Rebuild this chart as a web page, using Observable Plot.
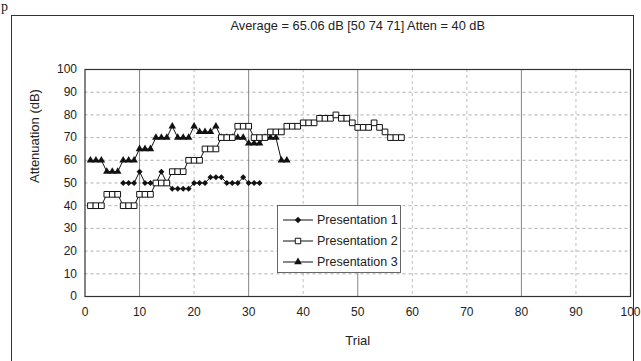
<!DOCTYPE html>
<html>
<head>
<meta charset="utf-8">
<script src="https://cdn.jsdelivr.net/npm/d3@7"></script>
<script src="https://cdn.jsdelivr.net/npm/@observablehq/plot@0.6"></script>
<style>
  html, body { margin: 0; padding: 0; background: #fff; }
  #wrap { position: relative; width: 641px; height: 361px; overflow: hidden;
          font-family: "Liberation Sans", Arial, sans-serif; color: #222; }
  #frame { position: absolute; left: 11px; top: 15px; width: 623px; height: 370px;
           border: 1.5px solid #333; box-sizing: border-box; }
  #corner { position: absolute; left: 1px; top: 0px; font-family: "Liberation Serif", serif;
            font-size: 14px; line-height: 14px; color: #222; }
  #chart { position: absolute; left: 0; top: 0; }
  #legend { position: absolute; left: 277px; top: 205px; width: 124px; height: 68px;
            border: 1px solid #666; background: #fff; box-sizing: border-box; padding-top: 3px; }
  .row { display: flex; align-items: center; height: 21px; font-size: 12.5px; }
  .row svg { margin-left: 4px; margin-right: 3px; }
</style>
</head>
<body>
<div id="wrap">
  <div id="frame"></div>
  <div id="corner">p</div>
  <div id="chart"></div>
  <div id="legend"></div>
</div>
<script>
// ---- data ----
const title = "Average = 65.06 dB [50 74 71] Atten = 40 dB";
const xLabel = "Trial";
const yLabel = "Attenuation (dB)";
const xTicks = [0, 10, 20, 30, 40, 50, 60, 70, 80, 90, 100];
const yTicks = [0, 10, 20, 30, 40, 50, 60, 70, 80, 90, 100];
const seriesNames = ["Presentation 1", "Presentation 2", "Presentation 3"];

// Presentation 1 starts at trial 7
const p1Start = 7;
const p1 = [50, 50, 50, 55, 50, 50, 50, 55, 50, 47.5, 47.5, 47.5, 47.5, 50, 50, 50,
            52.5, 52.5, 52.5, 50, 50, 50, 52.5, 50, 50, 50];
// Presentation 2 starts at trial 1
const p2Start = 1;
const p2 = [40, 40, 40, 45, 45, 45, 40, 40, 40, 45, 45, 45, 50, 50, 50, 55, 55, 55,
            60, 60, 60, 65, 65, 65, 70, 70, 70, 75, 75, 75, 70, 70, 70, 72.5, 72.5, 72.5,
            75, 75, 75, 76.5, 76.5, 76.5, 78.5, 78.5, 78.5, 80, 78.5, 78.5, 76.5,
            74.5, 74.5, 74.5, 76.5, 74.5, 72.5, 70, 70, 70];
// Presentation 3 starts at trial 1
const p3Start = 1;
const p3 = [60, 60, 60, 55, 55, 55, 60, 60, 60, 65, 65, 65, 70, 70, 70, 75, 70, 70, 70,
            75, 72.5, 72.5, 72.5, 75, 70, 70, 70, 70, 70, 67.5, 67.5, 67.5, 70, 70, 70, 60, 60];

const majorX = [10, 30, 50, 80];

// ---- build tables ----
const toRows = (vals, start) => vals.map((v, i) => ({trial: start + i, value: v}));
const d1 = toRows(p1, p1Start);
const d2 = toRows(p2, p2Start);
const d3rows = toRows(p3, p3Start);

const diamondSym = d3.symbolDiamond2 || "diamond";
const font = "'Liberation Sans', Arial, sans-serif";

const chart = Plot.plot({
  width: 641,
  height: 361,
  marginLeft: 84.5,
  marginRight: 11,
  marginTop: 69,
  marginBottom: 65,
  style: {fontFamily: font, fontSize: "12px", color: "#222", background: "transparent", overflow: "visible"},
  x: {domain: [0, 100], ticks: xTicks, tickSize: 0, tickPadding: 11, label: null},
  y: {domain: [0, 100], ticks: yTicks, tickSize: 0, tickPadding: 8, label: null},
  marks: [
    Plot.ruleY(yTicks.filter(v => v > 0 && v < 100), {stroke: "#9a9a9a", strokeWidth: 0.8, strokeDasharray: "3,3"}),
    Plot.ruleX(xTicks.filter(v => v > 0 && v < 100 && !majorX.includes(v)), {stroke: "#b0b0b0", strokeWidth: 0.8, strokeDasharray: "3,3"}),
    Plot.ruleX(majorX, {stroke: "#777", strokeWidth: 0.9}),
    Plot.frame({stroke: "#333", strokeWidth: 1.2}),
    Plot.line(d1, {x: "trial", y: "value", stroke: "#111", strokeWidth: 1}),
    Plot.line(d2, {x: "trial", y: "value", stroke: "#111", strokeWidth: 1}),
    Plot.line(d3rows, {x: "trial", y: "value", stroke: "#111", strokeWidth: 1}),
    Plot.dot(d3rows, {x: "trial", y: "value", symbol: "triangle", fill: "#111", r: 2.8}),
    Plot.dot(d1, {x: "trial", y: "value", symbol: diamondSym, fill: "#111", r: 2.7}),
    Plot.dot(d2, {x: "trial", y: "value", symbol: "square", fill: "#fff", stroke: "#111", strokeWidth: 1, r: 3.2}),
    Plot.text([title], {frameAnchor: "top", dy: -49, fontSize: 12.8, fill: "#222"}),
    Plot.text([xLabel], {frameAnchor: "bottom", dy: 48, fontSize: 13, fill: "#222"}),
    Plot.text([yLabel], {frameAnchor: "left", dx: -50, rotate: -90, fontSize: 13, fill: "#222"})
  ]
});
document.getElementById("chart").appendChild(chart);

// ---- legend ----
const legendSymbols = [
  {sym: diamondSym, fill: "#111", stroke: "none", size: 26},
  {sym: d3.symbolSquare, fill: "#fff", stroke: "#111", size: 30},
  {sym: d3.symbolTriangle, fill: "#111", stroke: "none", size: 26}
];
const legend = d3.select("#legend");
seriesNames.forEach((name, i) => {
  const row = legend.append("div").attr("class", "row");
  const svg = row.append("svg").attr("width", 32).attr("height", 12);
  svg.append("line").attr("x1", 1).attr("x2", 31).attr("y1", 6).attr("y2", 6)
     .attr("stroke", "#111").attr("stroke-width", 1);
  svg.append("path").attr("transform", "translate(16,6)")
     .attr("d", d3.symbol(legendSymbols[i].sym, legendSymbols[i].size)())
     .attr("fill", legendSymbols[i].fill).attr("stroke", legendSymbols[i].stroke);
  row.append("span").text(name);
});
</script>
</body>
</html>
